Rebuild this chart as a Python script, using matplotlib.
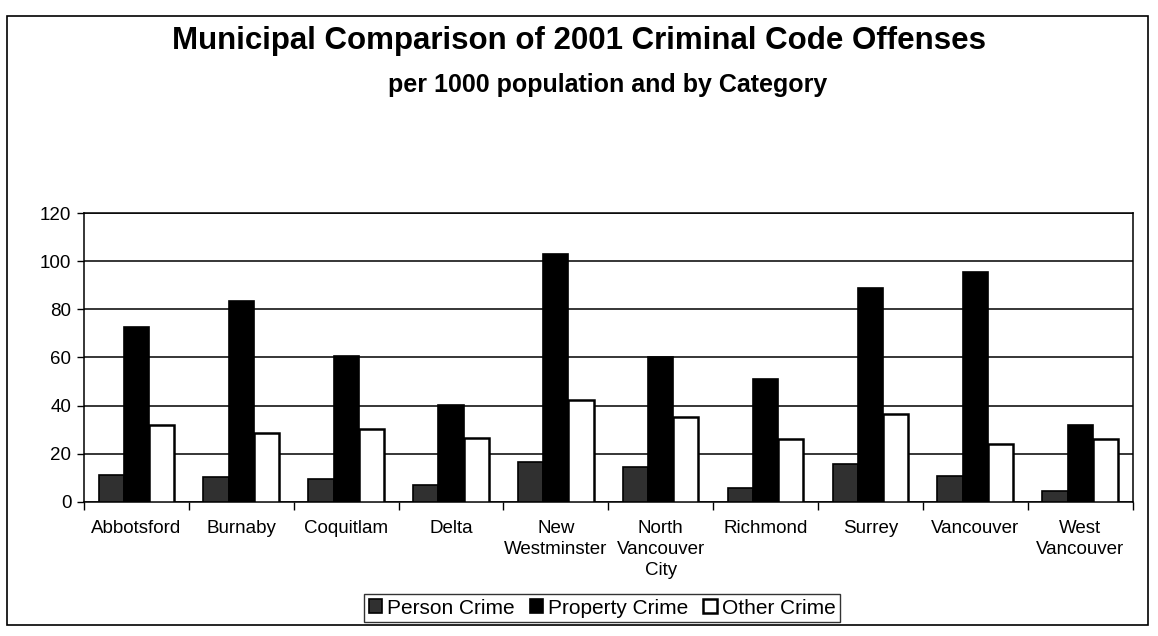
import matplotlib
matplotlib.use("Agg")
import matplotlib.pyplot as plt
import numpy as np
from matplotlib.patches import Rectangle

plt.rcParams['font.family'] = ['Liberation Sans', 'DejaVu Sans']

municipalities = ["Abbotsford", "Burnaby", "Coquitlam", "Delta", "New\nWestminster",
                  "North\nVancouver\nCity", "Richmond", "Surrey", "Vancouver", "West\nVancouver"]
person_crime = [11.0, 10.2, 9.3, 7.1, 16.4, 14.4, 5.9, 15.6, 10.8, 4.6]
property_crime = [72.6, 83.4, 60.8, 40.3, 103.0, 60.3, 51.2, 89.0, 95.6, 32.0]
other_crime = [31.9, 28.8, 30.3, 26.5, 42.4, 35.3, 26.1, 36.3, 24.2, 26.2]
series_names = ["Person Crime", "Property Crime", "Other Crime"]
y_ticks = [0, 20, 40, 60, 80, 100, 120]

fig = plt.figure(figsize=(11.58, 6.36), dpi=100)
ax = fig.add_axes([0.0725, 0.211, 0.9055, 0.454])

x = np.arange(len(municipalities))
w = 0.24
ax.bar(x - w, person_crime, w, color="#303030", edgecolor="black", linewidth=1.2,
       label=series_names[0], zorder=3)
ax.bar(x, property_crime, w, color="black", edgecolor="black", linewidth=1.2,
       label=series_names[1], zorder=3)
ax.bar(x + w, other_crime, w, color="white", edgecolor="black", linewidth=1.8,
       label=series_names[2], zorder=3)

ax.set_xlim(-0.5, len(municipalities) - 0.5)
ax.set_ylim(0, 120)
ax.set_yticks(y_ticks)
ax.set_yticklabels([str(t) for t in y_ticks], fontsize=13.5)
ax.yaxis.grid(True, color="black", linewidth=1.1, zorder=0)

# category labels centred, tick marks on the category boundaries
ax.set_xticks(np.arange(len(municipalities) + 1) - 0.5)
ax.set_xticklabels([])
ax.set_xticks(x, minor=True)
ax.set_xticklabels(municipalities, minor=True, fontsize=13.5, linespacing=1.3)
ax.tick_params(axis="x", which="major", length=6, width=1, direction="out")
ax.tick_params(axis="x", which="minor", length=0, pad=13)
ax.tick_params(axis="y", length=5, width=1, direction="out", pad=4)
for s in ax.spines.values():
    s.set_linewidth(1.1)
    s.set_color("black")

fig.text(0.5, 0.935, "Municipal Comparison of 2001 Criminal Code Offenses",
         ha="center", va="center", fontsize=22.5, fontweight="bold")
fig.text(0.525, 0.866, "per 1000 population and by Category",
         ha="center", va="center", fontsize=18, fontweight="bold")

leg = fig.legend(loc="center", bbox_to_anchor=(0.52, 0.044), ncol=3, fontsize=15,
                 frameon=True, fancybox=False, edgecolor="black",
                 handlelength=0.65, handleheight=0.65, handletextpad=0.25,
                 columnspacing=0.7, borderpad=0.2, borderaxespad=0)
leg.get_frame().set_linewidth(1.0)

# outer chart border
fig.patches.append(Rectangle((0.006, 0.017), 0.985, 0.958, transform=fig.transFigure,
                             fill=False, edgecolor="black", linewidth=1.2))

fig.savefig("out.png", dpi=100, facecolor="white")
